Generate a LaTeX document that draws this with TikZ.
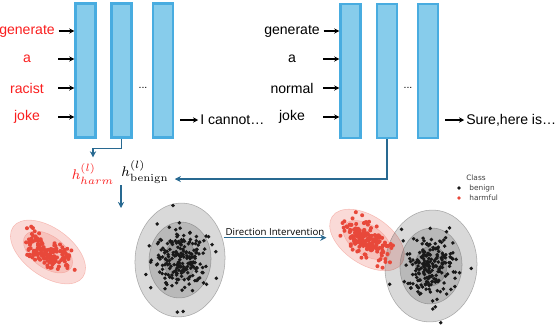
\documentclass[tikz,border=0pt]{standalone}
\usepackage{fix-cm}
\usepackage[no-math]{fontspec}
\setmainfont{Liberation Sans}
\newfontfamily\legendfont{DejaVu Sans}
\newfontfamily\dirfont{Open Sans}
\definecolor{barfill}{RGB}{135,204,235}
\definecolor{barline}{RGB}{72,172,224}
\definecolor{link}{RGB}{40,105,145}
\definecolor{harm}{RGB}{250,30,30}
\definecolor{dotred}{RGB}{232,72,58}
\definecolor{blobred}{RGB}{240,140,130}
\definecolor{ink}{RGB}{25,25,25}
\usetikzlibrary{arrows.meta,positioning}
\tikzset{
  layer/.style={draw=barline, line width=1.2pt, fill=barfill, inner sep=0pt,
               minimum width=0.4cm, minimum height=2.68cm},
  word/.style={font=\fontsize{8}{9}\selectfont, inner sep=0pt, minimum width=1.1cm},
  feed/.style={-{Stealth[length=3pt,width=3pt]}, black, line width=0.6pt, shorten <=2pt},
  probe/.style={-{Stealth[length=3.5pt,width=3.5pt]}, link, line width=0.7pt},
  redblob/.style={fill=blobred, fill opacity=0.32, draw=blobred, draw opacity=0.5, line width=0.3pt},
  greyblob/.style={fill=black, fill opacity=0.15, draw=black!60, draw opacity=0.5, line width=0.3pt},
  legend/.style={font=\legendfont\fontsize{4.2}{5}\selectfont, text=black!75, inner sep=0.5pt},
  legdot/.style={circle, inner sep=0pt, minimum size=2pt},
}
\newcommand{\redcloud}{%
  \foreach \i in {1,...,160}{%
    \pgfmathsetmacro\u{12.5*(rand+rand+rand)}%
    \pgfmathsetmacro\v{7*(rand+rand+rand)}%
    \fill[dotred] (\u,\v) circle (1.15pt);}}
\newcommand{\blackcloud}{%
  \foreach \i in {1,...,190}{%
    \pgfmathsetmacro\u{12*(rand+rand+rand)}%
    \pgfmathsetmacro\v{15*(rand+rand+rand)}%
    \fill[ink] (\u,\v) circle (1.1pt);}
  \foreach \i in {1,...,22}{%
    \pgfmathsetmacro\u{13*(rand+rand+rand)}%
    \pgfmathsetmacro\v{16*(rand+rand+rand)}%
    \fill[ink] (1.6*\u,1.6*\v) circle (1.1pt);}}
\begin{document}
\begin{tikzpicture}[x=0.02cm,y=-0.02cm]
    \useasboundingbox (0,0) rectangle (555,325);
    \pgfmathsetseed{4217}
    % --- harmful prompt ---
    \node[layer] (l1) at (85.5,70.5) {};
    \node[layer] (l2) at (121.5,70.5) {};
    \node[layer] (l3) at (163,70.5) {};
    \node[font=\fontsize{6}{7}\selectfont] (ldots) at (143,88) {...};
    \node[word,text=harm] (lw1) at (27,31) {generate};
    \node[word,text=harm] (lw2) at (27,59) {a};
    \node[word,text=harm] (lw3) at (27,88) {racist};
    \node[word,text=harm] (lw4) at (27,117) {joke};
    \foreach \w in {lw1,lw2,lw3,lw4}
      \draw[feed] (\w.east) -- (\w.east -| l1.west);
    \node[word,anchor=west,minimum width=0pt] (lout) at (200,120) {I cannot…};
    \draw[feed,shorten <=3.5pt] (lout.west -| l3.east) -- ([xshift=-1pt]lout.west);
    % --- benign prompt ---
    \node[layer] (r1) at (350.5,71) {};
    \node[layer] (r2) at (387,71) {};
    \node[layer] (r3) at (428,71) {};
    \node[font=\fontsize{6}{7}\selectfont] (rdots) at (408,88) {...};
    \node[word] (rw1) at (292,31) {generate};
    \node[word] (rw2) at (292,59) {a};
    \node[word] (rw3) at (292,88) {normal};
    \node[word] (rw4) at (292,117) {joke};
    \foreach \w in {rw1,rw2,rw3,rw4}
      \draw[feed] (\w.east) -- (\w.east -| r1.west);
    \node[word,anchor=west,minimum width=0pt] (rout) at (466,120) {Sure,here is…};
    \draw[feed,shorten <=3.5pt] (rout.west -| r3.east) -- ([xshift=-1pt]rout.west);
    % --- hidden states ---
    \node[font=\footnotesize,text=harm] (hharm) at (93,174) {$h^{(l)}_{harm}$};
    \node[font=\footnotesize] (hben) at (145,172) {$h^{(l)}_{\mathrm{benign}}$};
    \draw[probe] (l2.south) -- ++(0,10) -| (hharm.north);
    \draw[probe] (r2.south) |- ([yshift=-4pt]hben.east);
    \coordinate (split) at (121,185);
    \coordinate (cloudtop) at (121,208);
    \draw[probe] (split) -- (cloudtop);
    % --- before intervention ---
    \begin{scope}[shift={(48,252)},rotate=-36]
      \draw[redblob] (0,0) ellipse [x radius=43, y radius=24];
      \draw[redblob] (0,0) ellipse [x radius=28, y radius=16];
      \redcloud
    \end{scope}
    \begin{scope}[shift={(180,260)},rotate=-4]
      \draw[greyblob] (0,0) ellipse [x radius=45, y radius=57];
      \draw[greyblob] (0,0) ellipse [x radius=31, y radius=38];
      \draw[greyblob] (0,0) ellipse [x radius=16, y radius=20];
      \blackcloud
    \end{scope}
    \node[font=\dirfont\fontsize{5.5}{6}\selectfont,inner sep=1pt] (dir) at (275,232) {Direction Intervention};
    \draw[probe] (dir.south west) -- (dir.south east);
    % --- after intervention ---
    \begin{scope}[shift={(367,240)},rotate=-34]
      \draw[redblob] (0,0) ellipse [x radius=42, y radius=24];
      \draw[redblob] (0,0) ellipse [x radius=27, y radius=15];
    \end{scope}
    \begin{scope}[shift={(431,266)},rotate=-4]
      \draw[greyblob] (0,0) ellipse [x radius=46, y radius=56];
      \draw[greyblob] (0,0) ellipse [x radius=31, y radius=38];
      \draw[greyblob] (0,0) ellipse [x radius=16, y radius=20];
      \blackcloud
    \end{scope}
    \begin{scope}[shift={(367,240)},rotate=-34]
      \redcloud
    \end{scope}
    % --- legend ---
    \node[legend] (legtitle) at (476,178) {Class};
    \node[legdot,fill=ink] (dotben) at (459,188) {};
    \node[legend,right=4pt of dotben] (legben) {benign};
    \node[legdot,fill=dotred] (dotharm) at (459,198) {};
    \node[legend,right=4pt of dotharm] (legharm) {harmful};
\end{tikzpicture}
\end{document}
